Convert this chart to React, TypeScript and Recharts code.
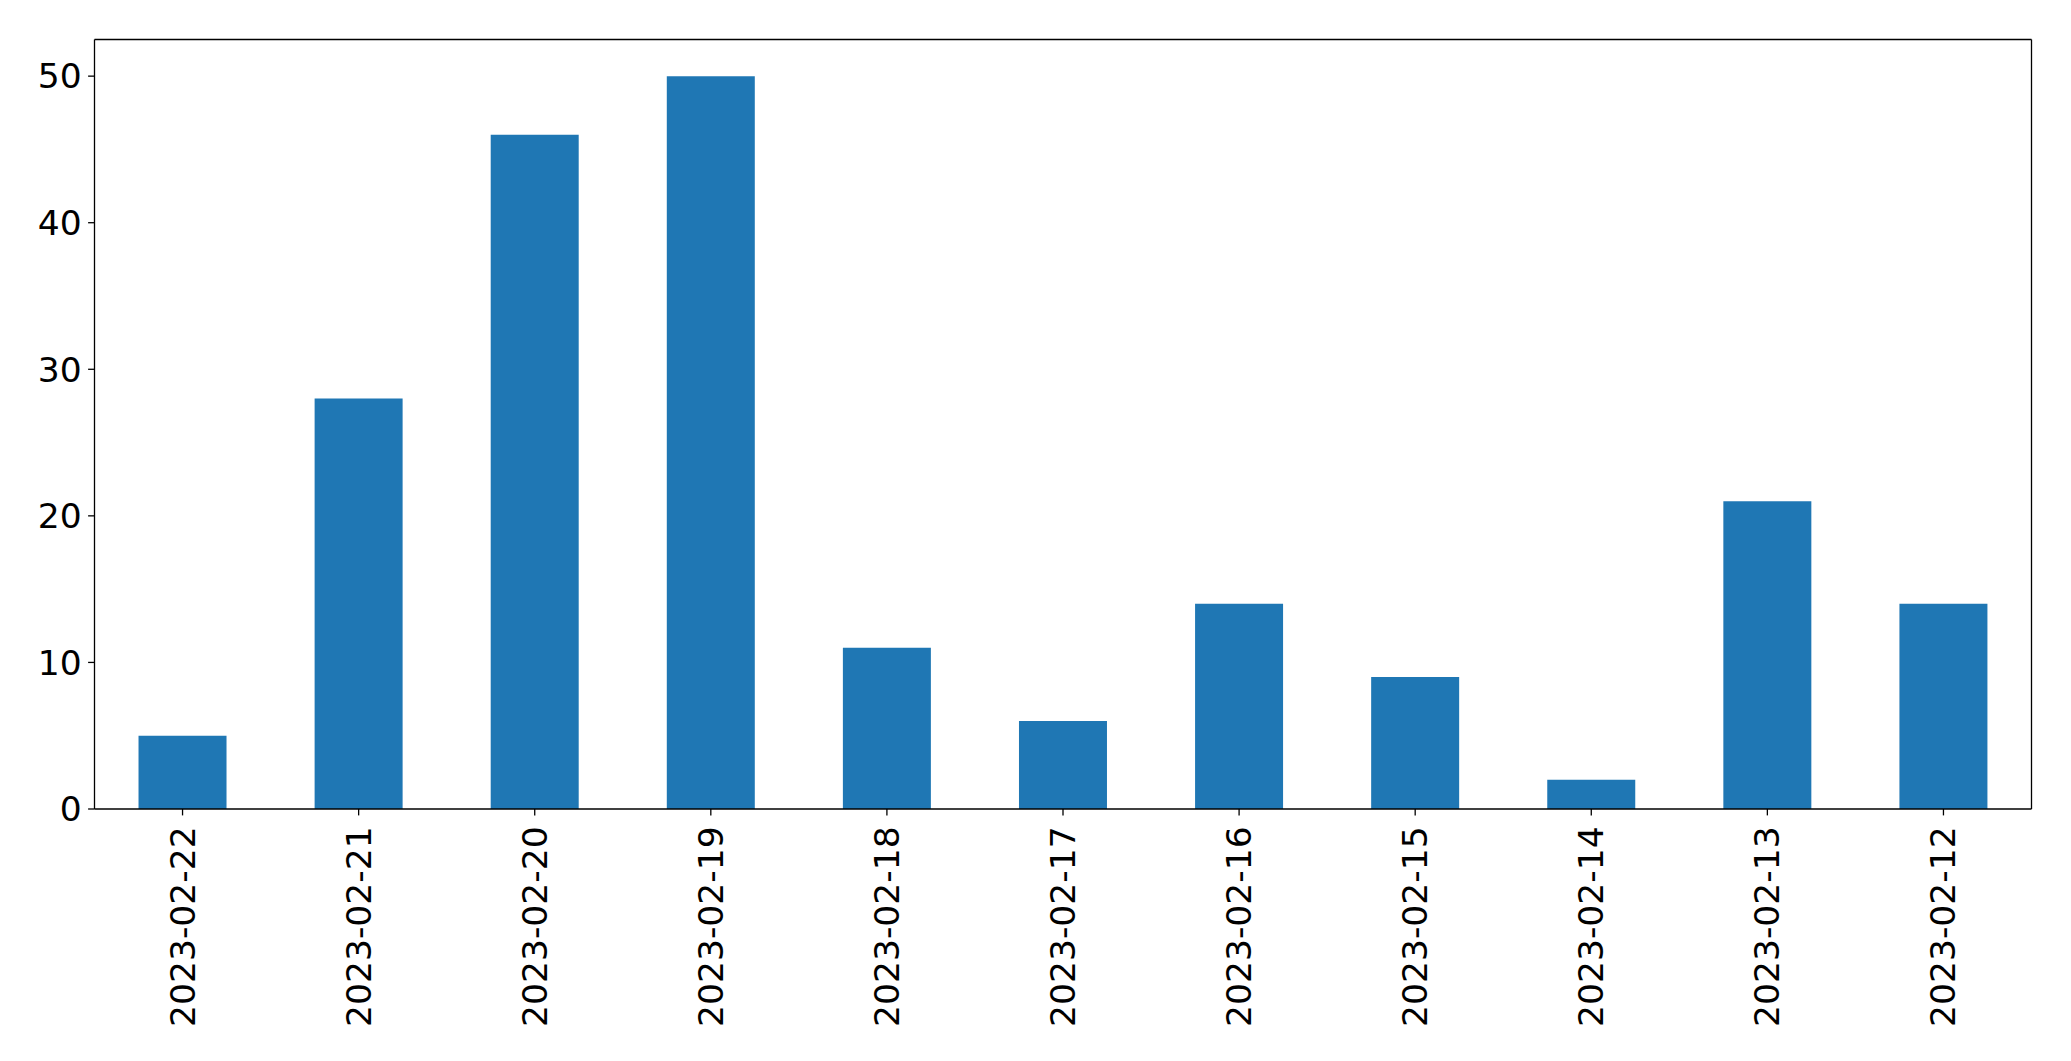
import { Bar, BarChart, XAxis, YAxis } from "recharts";

const dates = [
  "2023-02-22",
  "2023-02-21",
  "2023-02-20",
  "2023-02-19",
  "2023-02-18",
  "2023-02-17",
  "2023-02-16",
  "2023-02-15",
  "2023-02-14",
  "2023-02-13",
  "2023-02-12"
];
const counts = [5, 28, 46, 50, 11, 6, 14, 9, 2, 21, 14];
const yTicks = [0, 10, 20, 30, 40, 50];

const data = dates.map((date, i) => ({ date, count: counts[i] }));

const FONT = "'DejaVu Sans', sans-serif";
const FONT_SIZE = 34.5;
const frame = { stroke: "#000", strokeWidth: 1.3 };

function DateTick({ x, y, payload }: { x?: number; y?: number; payload?: { value: string } }) {
  return (
    <text
      x={x}
      y={y}
      transform={`rotate(-90, ${x}, ${y})`}
      textAnchor="end"
      dominantBaseline="central"
      fontFamily={FONT}
      fontSize={FONT_SIZE}
      fill="#000"
    >
      {payload?.value}
    </text>
  );
}

export default function App() {
  return (
    <div style={{ position: "absolute", left: 0, top: 0, background: "#fff" }}>
      <BarChart
        width={2071}
        height={1061}
        data={data}
        margin={{ top: 38.5, right: 38.5, bottom: 0, left: 0 }}
        barCategoryGap="25%"
      >
        <XAxis
          dataKey="date"
          xAxisId="main"
          interval={0}
          height={252}
          tick={<DateTick />}
          tickSize={6.4}
          tickMargin={11}
          axisLine={frame}
          tickLine={frame}
        />
        <XAxis
          dataKey="date"
          xAxisId="top"
          orientation="top"
          height={1}
          tick={false}
          tickLine={false}
          axisLine={frame}
        />
        <YAxis
          yAxisId="main"
          width={94.5}
          domain={[0, 52.5]}
          ticks={yTicks}
          allowDataOverflow
          tickSize={6.4}
          tickMargin={6.4}
          tick={{ fill: "#000", fontFamily: FONT, fontSize: FONT_SIZE }}
          axisLine={frame}
          tickLine={frame}
        />
        <YAxis
          yAxisId="right"
          orientation="right"
          width={1}
          domain={[0, 52.5]}
          tick={false}
          tickLine={false}
          axisLine={frame}
        />
        <Bar
          dataKey="count"
          xAxisId="main"
          yAxisId="main"
          fill="#1f77b4"
          isAnimationActive={false}
        />
      </BarChart>
    </div>
  );
}
